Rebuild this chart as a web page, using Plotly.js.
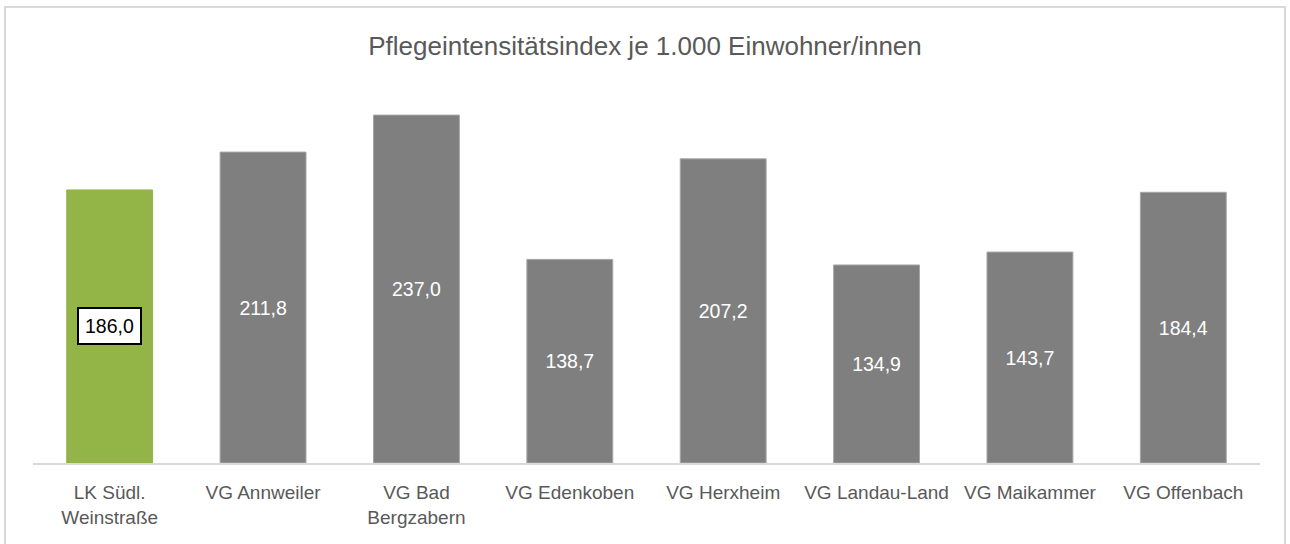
<!DOCTYPE html>
<html>
<head>
<meta charset="utf-8">
<script src="https://cdn.plot.ly/plotly-3.0.1.min.js"></script>
<style>
  html, body { margin: 0; padding: 0; background: #ffffff; }
  #frame { position: absolute; left: 4px; top: 6px; width: 1282px; height: 560px;
           border: 2px solid #d9d9d9; box-sizing: border-box; }
  #chart { position: absolute; left: 0; top: 0; width: 1290px; height: 544px; }
</style>
</head>
<body>
<div id="frame"></div>
<div id="chart"></div>
<script>
const categories = ["LK Südl.<br>Weinstraße", "VG Annweiler", "VG Bad<br>Bergzabern", "VG Edenkoben",
                    "VG Herxheim", "VG Landau-Land", "VG Maikammer", "VG Offenbach"];
const values = [186.0, 211.8, 237.0, 138.7, 207.2, 134.9, 143.7, 184.4];
const highlightIndex = 0;
const chartTitle = "Pflegeintensitätsindex je 1.000 Einwohner/innen";

const regular = "Liberation Sans, Arial, sans-serif";

const fmt = v => v.toFixed(1).replace(".", ",");
const colors = values.map((v, i) => i === highlightIndex ? "#93b447" : "#7f7f7f");
const lineColors = values.map((v, i) => i === highlightIndex ? "#93b447" : "#a6a6a6");
const texts = values.map((v, i) => i === highlightIndex ? "" : fmt(v));

const trace = {
  type: "bar",
  x: categories,
  y: values,
  marker: { color: colors, line: { color: lineColors, width: 1 } },
  text: texts,
  textposition: "inside",
  insidetextanchor: "middle",
  textangle: 0,
  insidetextfont: { family: regular, size: 19.5, color: "#ffffff" },
  hoverinfo: "none",
  cliponaxis: false
};

const layout = {
  width: 1290, height: 544,
  paper_bgcolor: "rgba(0,0,0,0)",
  plot_bgcolor: "rgba(0,0,0,0)",
  margin: { l: 33, r: 30, t: 96, b: 81 },
  bargap: 0.44,
  showlegend: false,
  title: {
    text: chartTitle,
    x: 0.5, xanchor: "center",
    y: 0.915, yanchor: "middle",
    font: { family: regular, size: 26, color: "#595959" }
  },
  xaxis: {
    showline: true, linecolor: "#d9d9d9", linewidth: 2,
    ticks: "", showgrid: false, zeroline: false,
    ticklabelstandoff: 11,
    tickfont: { family: regular, size: 19, color: "#595959" },
    tickangle: 0
  },
  yaxis: {
    range: [0, 250], visible: false, showgrid: false, zeroline: false, fixedrange: true
  },
  annotations: [{
    x: categories[highlightIndex], y: values[highlightIndex] / 2,
    xref: "x", yref: "y",
    text: fmt(values[highlightIndex]),
    showarrow: false,
    font: { family: regular, size: 19.5, color: "#000000" },
    bgcolor: "#ffffff", bordercolor: "#000000", borderwidth: 2, borderpad: 6
  }]
};

Plotly.newPlot("chart", [trace], layout, { displayModeBar: false, staticPlot: true });
</script>
</body>
</html>
